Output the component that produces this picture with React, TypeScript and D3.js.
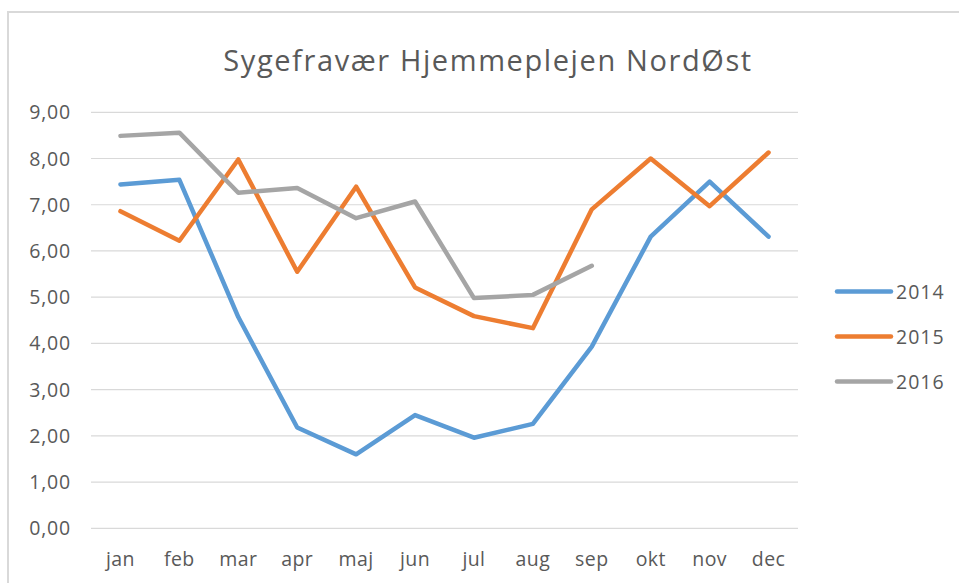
import React from "react";
import * as d3 from "d3";

const months = ["jan", "feb", "mar", "apr", "maj", "jun", "jul", "aug", "sep", "okt", "nov", "dec"];
const yTicks = [0, 1, 2, 3, 4, 5, 6, 7, 8, 9];
const values2014 = [7.44, 7.54, 4.57, 2.18, 1.6, 2.45, 1.96, 2.26, 3.93, 6.31, 7.5, 6.31];
const values2015 = [6.86, 6.22, 7.98, 5.55, 7.39, 5.21, 4.59, 4.33, 6.9, 8.0, 6.97, 8.13];
const values2016 = [8.49, 8.56, 7.26, 7.36, 6.71, 7.07, 4.98, 5.05, 5.68];
const seriesNames = ["2014", "2015", "2016"];
const colors = ["#5B9BD5", "#ED7D31", "#A5A5A5"];
const title = "Sygefravær Hjemmeplejen NordØst";

export default function App() {
  const W = 959, H = 583;
  const left = 91, right = 798, top = 112.3, bottom = 528.3;
  const x = d3.scaleBand<string>().domain(months).range([left, right]);
  const y = d3.scaleLinear().domain([0, 9]).range([bottom, top]);
  const fmt = (v: number) => d3.format(".2f")(v).replace(".", ",");
  const line = d3
    .line<number>()
    .x((_, i) => (x(months[i]) as number) + x.bandwidth() / 2)
    .y((d) => y(d));
  const series = [values2014, values2015, values2016];
  const font = "'Open Sans', sans-serif";
  const textColor = "#595959";
  const legendY = [291.5, 336.5, 381.5];

  return (
    <svg
      width={W}
      height={H}
      style={{ position: "absolute", left: 0, top: 0, background: "#fff" }}
      fontFamily={font}
    >
      <rect x={0} y={0} width={W} height={H} fill="#fff" />
      <rect x={8} y={12} width={1200} height={1200} fill="none" stroke="#d9d9d9" strokeWidth={2} />
      <text x={488} y={71} textAnchor="middle" fontSize={29} fill={textColor} letterSpacing={1.6}>
        {title}
      </text>
      {yTicks.map((t) => (
        <g key={t}>
          <line x1={left} x2={right} y1={y(t)} y2={y(t)} stroke="#d9d9d9" strokeWidth={1.2} />
          <text x={71} y={y(t) + 7} textAnchor="end" fontSize={19.5} fill={textColor} letterSpacing={0.8}>
            {fmt(t)}
          </text>
        </g>
      ))}
      {months.map((m) => (
        <text
          key={m}
          x={(x(m) as number) + x.bandwidth() / 2}
          y={566}
          textAnchor="middle"
          fontSize={19.5}
          fill={textColor}
          letterSpacing={0.4}
        >
          {m}
        </text>
      ))}
      {series.map((s, i) => (
        <path
          key={seriesNames[i]}
          d={line(s) as string}
          fill="none"
          stroke={colors[i]}
          strokeWidth={4.5}
          strokeLinejoin="round"
          strokeLinecap="round"
        />
      ))}
      {seriesNames.map((n, i) => (
        <g key={n}>
          <line x1={837} x2={891} y1={legendY[i]} y2={legendY[i]} stroke={colors[i]} strokeWidth={4.5} strokeLinecap="round" />
          <text x={896} y={legendY[i] + 7} fontSize={19.5} fill={textColor} letterSpacing={1}>
            {n}
          </text>
        </g>
      ))}
    </svg>
  );
}
